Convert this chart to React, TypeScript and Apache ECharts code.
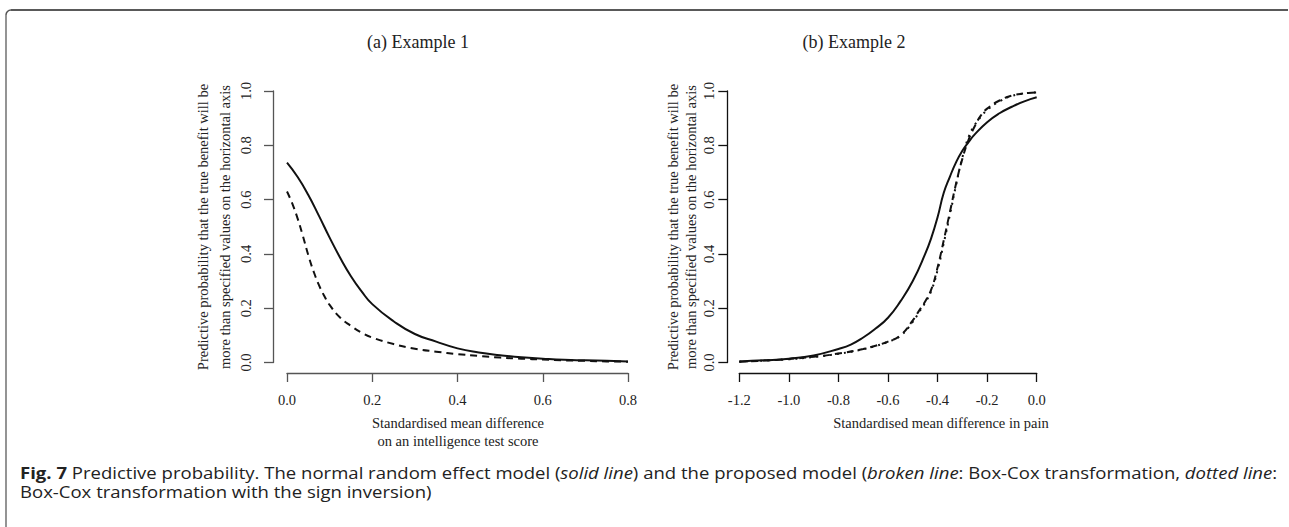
import React, { useEffect, useRef } from "react";
import * as echarts from "echarts";

// ---------- data ----------
const xTicksA = [0, 0.2, 0.4, 0.6, 0.8];
const xTicksB = [-1.2, -1.0, -0.8, -0.6, -0.4, -0.2, 0.0];
const yTicks = [0, 0.2, 0.4, 0.6, 0.8, 1.0];

const panelTitles = ["(a) Example 1", "(b) Example 2"];
const yTitleLines = [
  "Predictive probability that the true benefit will be",
  "more than specified values on the horizontal axis",
];
const xTitleA = ["Standardised mean difference", "on an intelligence test score"];
const xTitleB = ["Standardised mean difference in pain"];

// Panel (a)
const xSolidA = [0, 0.025, 0.05, 0.075, 0.1, 0.125, 0.15, 0.175, 0.2, 0.25, 0.3, 0.35, 0.4, 0.45, 0.5, 0.55, 0.6, 0.65, 0.7, 0.75, 0.8];
const solidA = [0.736, 0.683, 0.617, 0.54, 0.46, 0.385, 0.318, 0.262, 0.215, 0.152, 0.105, 0.077, 0.052, 0.037, 0.027, 0.019, 0.014, 0.010, 0.008, 0.006, 0.004];
const xDashedA = [0, 0.0125, 0.025, 0.0375, 0.05, 0.0625, 0.075, 0.0875, 0.1, 0.125, 0.15, 0.175, 0.2, 0.25, 0.3, 0.35, 0.4, 0.45, 0.5, 0.55, 0.6, 0.65, 0.7, 0.75, 0.8];
const dashedA = [0.63, 0.585, 0.53, 0.465, 0.395, 0.335, 0.285, 0.245, 0.212, 0.165, 0.135, 0.11, 0.092, 0.068, 0.051, 0.040, 0.031, 0.024, 0.018, 0.014, 0.011, 0.008, 0.006, 0.004, 0.003];

// Panel (b)
const xSolidB = [-1.2, -1.1, -1.0, -0.9, -0.8, -0.75, -0.7, -0.65, -0.6, -0.55, -0.5, -0.45, -0.425, -0.4, -0.375, -0.35, -0.325, -0.3, -0.275, -0.25, -0.2, -0.15, -0.1, -0.05, 0];
const solidB = [0.004, 0.008, 0.014, 0.026, 0.05, 0.066, 0.092, 0.125, 0.165, 0.225, 0.30, 0.40, 0.46, 0.535, 0.625, 0.685, 0.738, 0.78, 0.812, 0.84, 0.885, 0.918, 0.942, 0.962, 0.977];
const xBrokenB = [-1.2, -1.1, -1.0, -0.9, -0.8, -0.7, -0.65, -0.6, -0.55, -0.5, -0.475, -0.45, -0.425, -0.4, -0.375, -0.35, -0.325, -0.3, -0.275, -0.25, -0.225, -0.2, -0.15, -0.1, -0.05, 0];
const dashedB = [0.003, 0.007, 0.013, 0.021, 0.033, 0.050, 0.062, 0.077, 0.10, 0.155, 0.19, 0.225, 0.27, 0.35, 0.45, 0.555, 0.66, 0.75, 0.82, 0.87, 0.91, 0.935, 0.965, 0.983, 0.991, 0.995];
const dottedB = [0.003, 0.007, 0.012, 0.020, 0.032, 0.049, 0.061, 0.076, 0.098, 0.15, 0.185, 0.22, 0.265, 0.34, 0.44, 0.545, 0.655, 0.755, 0.83, 0.875, 0.905, 0.93, 0.962, 0.982, 0.991, 0.995];

const captionLine1Parts = [
  { t: "Fig. 7", s: "b" },
  { t: " Predictive probability. The normal random effect model (", s: "n" },
  { t: "solid line", s: "i" },
  { t: ") and the proposed model (", s: "n" },
  { t: "broken line", s: "i" },
  { t: ": Box-Cox transformation, ", s: "n" },
  { t: "dotted line", s: "i" },
  { t: ":", s: "n" },
];
const captionLine2 = "Box-Cox transformation with the sign inversion)";

// ---------- helpers ----------
const pairs = (xs: number[], ys: number[]) => xs.map((x, i) => [x, ys[i]]);
const SERIF = "'Liberation Serif', 'DejaVu Serif', serif";
const SANS = "'Open Sans', 'Noto Sans', sans-serif";

function makeAxes(idx: number, ticks: number[], axisColor: string, yOffset: number, yLabelMargin: number) {
  const x = {
    type: "value",
    gridIndex: idx,
    min: ticks[0],
    max: ticks[ticks.length - 1],
    interval: 0.2,
    offset: 10.5,
    splitLine: { show: false },
    axisLine: { show: true, onZero: false, lineStyle: { color: axisColor, width: 1.3 } },
    axisTick: { show: true, length: 9, lineStyle: { color: axisColor, width: 1.3 } },
    axisLabel: {
      margin: 19,
      color: "#222",
      fontFamily: SERIF,
      fontSize: 14.5,
      formatter: (v: number) => v.toFixed(1),
      showMinLabel: true,
      showMaxLabel: true,
    },
  };
  const y = {
    type: "value",
    gridIndex: idx,
    min: yTicks[0],
    max: yTicks[yTicks.length - 1],
    interval: 0.2,
    offset: yOffset,
    splitLine: { show: false },
    axisLine: { show: true, onZero: false, lineStyle: { color: axisColor, width: 1.3 } },
    axisTick: { show: true, length: 9, lineStyle: { color: axisColor, width: 1.3 } },
    axisLabel: {
      rotate: 90,
      margin: yLabelMargin,
      color: "#222",
      fontFamily: SERIF,
      fontSize: 14.5,
      formatter: (v: number) => v.toFixed(1),
      showMinLabel: true,
      showMaxLabel: true,
    },
  };
  return { x, y };
}

function lineSeries(xi: number, data: number[][], type: any) {
  return {
    type: "line",
    xAxisIndex: xi,
    yAxisIndex: xi,
    data,
    symbol: "none",
    showSymbol: false,
    smooth: 0.5,
    silent: true,
    lineStyle: { color: "#111", width: 2, type },
  };
}

function serifText(text: string, x: number, y: number, size: number, rotate = false) {
  return {
    type: "text",
    x,
    y,
    rotation: rotate ? Math.PI / 2 : 0,
    silent: true,
    style: {
      text,
      fill: "#222",
      fontFamily: SERIF,
      fontSize: size,
      align: "center",
      verticalAlign: "middle",
      textAlign: "center",
      textVerticalAlign: "middle",
    },
  };
}

export default function App() {
  const ref = useRef<HTMLDivElement>(null);

  useEffect(() => {
    document.body.style.margin = "0";
    if (!ref.current) return;
    const chart = echarts.init(ref.current, null, { renderer: "svg" });

    // fit caption line 1 to the reference width
    const plain = captionLine1Parts.map((p) => p.t).join("");
    let capSize = 18;
    try {
      const ctx = document.createElement("canvas").getContext("2d");
      if (ctx) {
        ctx.font = `100px ${SANS}`;
        const w = ctx.measureText(plain).width;
        if (w > 0) capSize = Math.max(12, Math.min(20, (100 * 1272) / w));
      }
    } catch (e) {}

    const rich = {
      n: { fontFamily: SANS, fontSize: capSize, fill: "#222", lineHeight: 19 },
      b: { fontFamily: SANS, fontSize: capSize, fontWeight: "bold", fill: "#222", lineHeight: 19 },
      i: { fontFamily: SANS, fontSize: capSize, fontStyle: "italic", fill: "#222", lineHeight: 19 },
    };
    const capText = captionLine1Parts.map((p) => `{${p.s}|${p.t}}`).join("");

    const a = makeAxes(0, xTicksA, "#555", 14, 20);
    const b = makeAxes(1, xTicksB, "#111", 12, 11);

    const option = {
      animation: false,
      backgroundColor: "#ffffff",
      grid: [
        { left: 287, top: 91, width: 341, height: 271.5, containLabel: false },
        { left: 739.3, top: 91, width: 297.4, height: 271.5, containLabel: false },
      ],
      xAxis: [a.x, b.x],
      yAxis: [a.y, b.y],
      series: [
        lineSeries(0, pairs(xSolidA, solidA), "solid"),
        lineSeries(0, pairs(xDashedA, dashedA), [7, 5]),
        lineSeries(1, pairs(xSolidB, solidB), "solid"),
        lineSeries(1, pairs(xBrokenB, dashedB), [7, 5]),
        lineSeries(1, pairs(xBrokenB, dottedB), [2, 5]),
      ],
      graphic: [
        // frame
        { type: "line", silent: true, shape: { x1: 11, y1: 10, x2: 1288, y2: 10 }, style: { stroke: "#222", lineWidth: 1.5 } },
        { type: "arc", silent: true, shape: { cx: 11, cy: 15, r: 5, startAngle: Math.PI, endAngle: Math.PI * 1.5 }, style: { stroke: "#555", lineWidth: 1.5, fill: "none" } },
        { type: "line", silent: true, shape: { x1: 6, y1: 15, x2: 6, y2: 527 }, style: { stroke: "#888", lineWidth: 1.8 } },
        // panel titles
        serifText(panelTitles[0], 418, 42, 18),
        serifText(panelTitles[1], 854, 42, 18),
        // y titles
        serifText(yTitleLines[0], 203, 227, 14.5, true),
        serifText(yTitleLines[1], 225, 227, 14.5, true),
        serifText(yTitleLines[0], 673, 227, 14.5, true),
        serifText(yTitleLines[1], 691, 227, 14.5, true),
        // x titles
        serifText(xTitleA[0], 458, 423, 14.5),
        serifText(xTitleA[1], 458, 441, 14.5),
        serifText(xTitleB[0], 941, 423, 14.5),
        // caption
        {
          type: "text",
          x: 20,
          y: 473,
          scaleY: 0.85,
          silent: true,
          style: { text: capText, rich, fontFamily: SANS, fontSize: capSize, lineHeight: 19, fill: "#222", verticalAlign: "middle", textVerticalAlign: "middle" },
        },
        {
          type: "text",
          x: 20,
          y: 492,
          scaleY: 0.85,
          silent: true,
          style: { text: captionLine2, fontFamily: SANS, fontSize: capSize, lineHeight: 19, fill: "#222", verticalAlign: "middle", textVerticalAlign: "middle" },
        },
      ],
    };
    chart.setOption(option as any);
    return () => chart.dispose();
  }, []);

  return (
    <div
      ref={ref}
      style={{ position: "absolute", left: 0, top: 0, width: 1289, height: 527, background: "#fff" }}
    />
  );
}
